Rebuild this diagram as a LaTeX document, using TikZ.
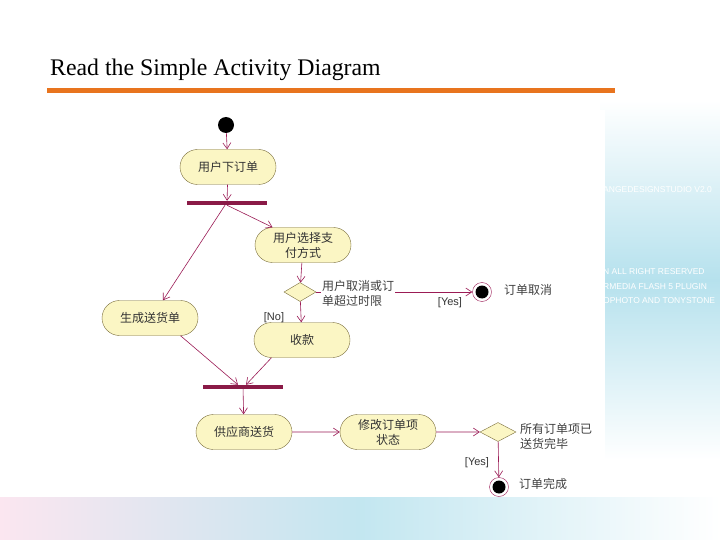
\documentclass[tikz,border=0pt]{standalone}
\usepackage{fontspec}
\setmainfont{Liberation Serif}
\newfontfamily\cjk{Noto Sans CJK SC}
\newfontfamily\lab{Liberation Sans}
\usepackage{tikz}
\usetikzlibrary{positioning}
\usetikzlibrary{shapes.geometric,shapes.misc,arrows.meta}
\usepackage{xcolor}
\definecolor{actfill}{HTML}{FBF6C4}
\definecolor{actedge}{HTML}{7A6E3C}
\definecolor{flowcol}{HTML}{9B1B55}
\definecolor{barcol}{HTML}{8A1A47}
\definecolor{rulecol}{HTML}{E8741E}
\definecolor{skyblue}{HTML}{A9DCEA}
\definecolor{rosebg}{HTML}{FBE6F0}

\tikzset{
  act/.style={rounded rectangle, draw=actedge, fill=actfill, minimum width=100, minimum height=35,
    inner sep=2pt, font=\cjk\fontsize{12}{15}\selectfont, text=black!80, align=center},
  bar/.style={rectangle, fill=barcol, minimum height=4, inner sep=0},
  decision/.style={diamond, draw=actedge, fill=actfill, minimum width=32, minimum height=19, inner sep=0},
  final/.style={circle, draw=flowcol, fill=white, minimum size=19, inner sep=0,
    path picture={\fill[black] (path picture bounding box.center) circle (6.5);}},
  lbl/.style={font=\cjk\fontsize{12}{15}\selectfont, text=black!75, align=left, inner sep=1pt},
  guard/.style={font=\lab\fontsize{11}{13}\selectfont, text=black!80, inner sep=1pt},
  flow/.style={flowcol, semithick, -{Straight Barb[length=6pt,width=8pt]}}
}

\begin{document}
\begin{tikzpicture}[x=1pt, y=-1pt]
    \useasboundingbox (0,0) rectangle (720,540);
    % Slide background
    \shade[top color=white, bottom color=white, middle color=skyblue!85] (600,100) rectangle (720,460);
    \shade[left color=rosebg, right color=white, middle color=skyblue!70] (0,497) rectangle (720,540);
    \begin{scope}[white, font=\lab\fontsize{8.5}{9}\selectfont]
        \node[anchor=west, inner sep=0] (wm1) at (603,190) {ANGEDESIGNSTUDIO V2.0};
        \node[anchor=west, inner sep=0] (wm2) at (603,272) {N ALL RIGHT RESERVED};
        \node[anchor=west, inner sep=0] (wm3) at (603,287) {RMEDIA FLASH 5 PLUGIN};
        \node[anchor=west, inner sep=0] (wm4) at (603,301) {OPHOTO AND TONYSTONE};
    \end{scope}
    \fill[white] (97,110) rectangle (605,497);

    % Title
    \node[anchor=base west, inner sep=0, font=\fontsize{23.8}{28}\selectfont] (title) at (50,76) {Read the Simple Activity Diagram};
    \fill[rulecol] (47,88) rectangle (615,93);

    % Start and first action
    \node[circle, fill=black, minimum size=16, inner sep=0] (start) at (226,125) {};
    \node[act] (order) at (228,167) {用户下订单};
    \node[bar, minimum width=80] (fork) at (227,203) {};

    % Payment branch
    \node[act] (pay) at (303,245) {用户选择支\\付方式};
    \node[decision] (cancelq) at (300,292) {};
    \node[final] (cancelend) at (482,292) {};
    \node[lbl, anchor=west] at (503,290) {订单取消};
    \node[act] (collect) at (302,340) {收款};

    % Shipping branch
    \node[act] (ship) at (150,318) {生成送货单};

    % Join
    \node[bar, minimum width=80] (join) at (243,387) {};
    \node[act] (deliver) at (244,432) {供应商送货};
    \node[act] (update) at (388,432) {修改订单项\\状态};
    \node[decision, minimum width=36] (doneq) at (498,432) {};
    \node[final] (doneend) at (499,487) {};
    \node[lbl, anchor=west] at (518,484) {订单完成};

    % Edges
    \draw[flow] (start) -- (order);
    \draw[flow] (order) -- (fork);
    \draw[flow] (fork.south) -- (pay.north west);
    \draw[flow] ([xshift=-2]fork.south) -- ([xshift=13]ship.north);
    \draw[flow] (pay) -- (cancelq);
    \draw[flow] (cancelq) -- (cancelend);
    \draw[flow] (cancelq) -- (collect);
    \draw[flow] (ship.south east) -- ([xshift=-5]join.north);
    \draw[flow] (collect.south west) -- ([xshift=3]join.north);
    \draw[flow] (join) -- (deliver);
    \draw[flow] (deliver) -- (update);
    \draw[flow] (update) -- (doneq);
    \draw[flow] (doneq) -- (doneend);

    % Guards and notes
    \node[lbl, anchor=west, fill=white] (cancelnote) at (321,293) {用户取消或订\\单超过时限};
    \node[guard] (yes1) at (450,303) {[Yes]};
    \node[guard] (no1) at (274,318) {[No]};
    \node[lbl, anchor=west] (donenote) at (519,436) {所有订单项已\\送货完毕};
    \node[guard] (yes2) at (477,463) {[Yes]};
\end{tikzpicture}
\end{document}
